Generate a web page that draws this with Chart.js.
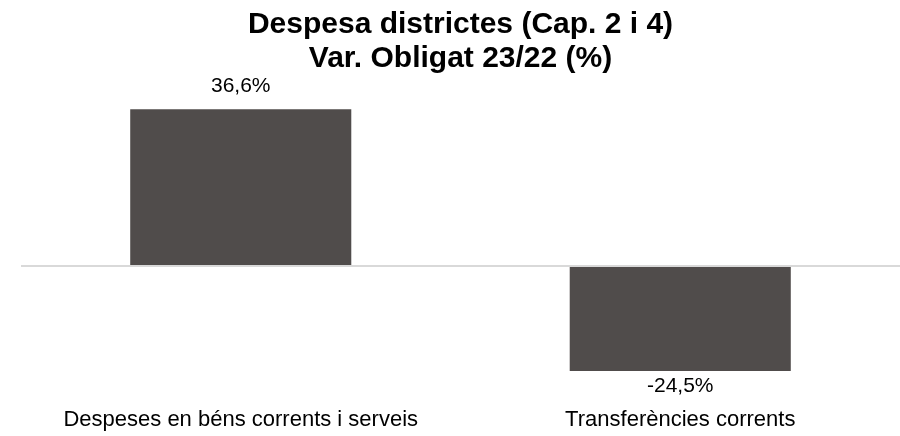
<!DOCTYPE html>
<html>
<head>
<meta charset="utf-8">
<script src="https://cdn.jsdelivr.net/npm/chart.js@4/dist/chart.umd.min.js"></script>
<style>
    html, body { margin: 0; padding: 0; background: #ffffff; }
    #wrap { width: 900px; height: 436px; }
</style>
</head>
<body>
<div id="wrap"><canvas id="varChart" width="900" height="436"></canvas></div>
<script>
// Despesa districtes, variació obligat 23/22
const categories = ['Despeses en béns corrents i serveis', 'Transferències corrents'];
const variacio = [36.6, -24.5];
const titleLines = ['Despesa districtes (Cap. 2 i 4)', 'Var. Obligat 23/22 (%)'];

const fontFamily = '"Liberation Sans", Arial, sans-serif';

// etiquetes de valor sobre / sota cada barra
const valueLabels = {
    id: 'valueLabels',
    afterDatasetsDraw(chart) {
        const ctx = chart.ctx;
        const meta = chart.getDatasetMeta(0);
        ctx.save();
        ctx.font = '21px ' + fontFamily;
        ctx.fillStyle = '#000000';
        ctx.textAlign = 'center';
        ctx.textBaseline = 'middle';
        meta.data.forEach((bar, i) => {
            const v = variacio[i];
            const txt = v.toFixed(1).replace('.', ',') + '%';
            const y = v >= 0 ? bar.y - 23 : bar.y + 15;
            ctx.fillText(txt, bar.x, y);
        });
        ctx.restore();
    }
};

new Chart(document.getElementById('varChart'), {
    type: 'bar',
    data: {
        labels: categories,
        datasets: [{
            data: variacio,
            backgroundColor: '#504c4b',
            borderWidth: 0,
            barPercentage: 1,
            categoryPercentage: 0.503
        }]
    },
    options: {
        responsive: false,
        animation: false,
        layout: { padding: { left: 21, right: 0, top: 0, bottom: 0 } },
        plugins: {
            legend: { display: false },
            tooltip: { enabled: false },
            title: {
                display: true,
                text: titleLines,
                color: '#000000',
                font: { family: fontFamily, size: 30, weight: 'bold', lineHeight: 1.15 },
                padding: { top: 7, bottom: 18.6 }
            }
        },
        scales: {
            x: {
                afterFit(scale) { scale.height = 41.3; },
                grid: { display: false, drawTicks: false },
                border: { display: false },
                ticks: {
                    color: '#000000',
                    padding: 12,
                    maxRotation: 0,
                    font: { family: fontFamily, size: 22 }
                }
            },
            y: {
                min: -30,
                max: 40,
                z: 1,
                afterFit(scale) { scale.width = 0; },
                ticks: { display: false, stepSize: 10 },
                border: { display: false },
                grid: {
                    drawTicks: false,
                    lineWidth: 2,
                    color: c => c.tick.value === 0 ? '#d9d9d9' : 'rgba(0,0,0,0)'
                }
            }
        }
    },
    plugins: [valueLabels]
});
</script>
</body>
</html>
